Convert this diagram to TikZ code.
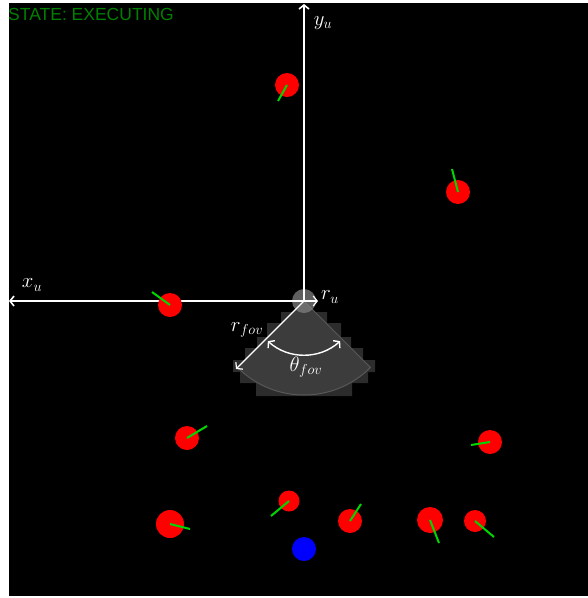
\documentclass[tikz,border=0pt]{standalone}
\usepackage{fontspec}
\usepackage{amsmath}
\usepackage{xcolor}
\usepackage{tikz}
\usetikzlibrary{arrows.meta, positioning}

\newfontfamily\statefont{Liberation Sans}
\definecolor{stategreen}{RGB}{0,128,0}
\definecolor{fovgray}{RGB}{60,60,60}
\definecolor{fovedge}{RGB}{88,88,88}
\definecolor{cellgray}{RGB}{44,44,44}
\definecolor{headgreen}{RGB}{0,215,0}

\tikzset{
  robot/.style={circle, fill=red, inner sep=0pt, minimum size=24},
  heading/.style={headgreen, line width=2},
  axis/.style={white, line width=1.6, -{Straight Barb[length=4pt, width=10pt]}},
  lbl/.style={white, inner sep=1pt, font=\huge},
}

\begin{document}
\begin{tikzpicture}[x=1pt, y=-1pt]
\useasboundingbox (0,0) rectangle (588,598);
% Canvas
\fill[white] (0,0) rectangle (588,598);
\fill[black] (9,3) rectangle (588,596);

\node[anchor=base west, inner sep=0pt, text=stategreen,
      font=\statefont\fontsize{17.5}{20}\selectfont] (state) at (8,20) {STATE: EXECUTING};

% Field of view (grid cells + sector)
\coordinate (O) at (304,301);
\fill[cellgray] (281,312) -- (281,323) -- (267,323) -- (267,337) -- (257,337) -- (257,348)
  -- (245,348) -- (245,360) -- (233,360) -- (233,372) -- (240,372) -- (240,383)
  -- (256,383) -- (256,396) -- (352,396) -- (352,383) -- (368,383) -- (368,372)
  -- (375,372) -- (375,360) -- (363,360) -- (363,348) -- (351,348) -- (351,337)
  -- (341,337) -- (341,323) -- (327,323) -- (327,312) -- cycle;
\filldraw[fill=fovgray, draw=fovedge, line width=1]
  (O) -- ++(135:94) arc[start angle=135, end angle=45, radius=94] -- cycle;

% Robot footprint
\node[circle, fill=gray, fill opacity=0.75, inner sep=0pt, minimum size=24] (ru) at (O) {};

% Axes
\coordinate (xend) at (9,301);
\coordinate (yend) at (304,4);
\draw[axis] (O) -- (xend);
\draw[axis] (O) -- (yend);
\node[lbl] (xu) at (32,285) {$x_u$};
\node[lbl] (yu) at (323,23) {$y_u$};

% Radii and opening angle
\coordinate (rutip) at (318,301);
\coordinate (rftip) at (236,369);
\draw[axis, line width=1.2] (O) -- (rutip);
\draw[axis, line width=1.2] (O) -- (rftip);
\node[lbl] (rulbl) at (330,297) {$r_u$};
\node[lbl] (rflbl) at (247,330) {$r_{fov}$};
\path (O) ++(132:54) coordinate (a1);
\path (O) ++(48:54) coordinate (a2);
\draw[white, line width=1.4, {Straight Barb[length=4pt, width=10pt]}-{Straight Barb[length=4pt, width=10pt]}]
  (a1) arc[start angle=132, end angle=48, radius=54];
\node[lbl] (thlbl) at (306,367) {$\theta_{fov}$};

% Robots with heading
\foreach \x/\y/\hx/\hy/\s [count=\k] in {287/85/278/101/24, 458/192/452/169/24,
    170/305/152/292/24, 187/438/207/426/24, 490/442/471/445/24, 170/524/190/529/28,
    289/501/271/516/21, 350/521/361/504/24, 430/520/439/543/26, 475/521/494/537/22} {
  \node[robot, minimum size=\s] (r\k) at (\x,\y) {};
  \coordinate (h\k) at (\hx,\hy);
  \draw[heading] (r\k.center) -- (h\k);
}
\node[robot, fill=blue] (self) at (304,549) {};
\end{tikzpicture}
\end{document}
